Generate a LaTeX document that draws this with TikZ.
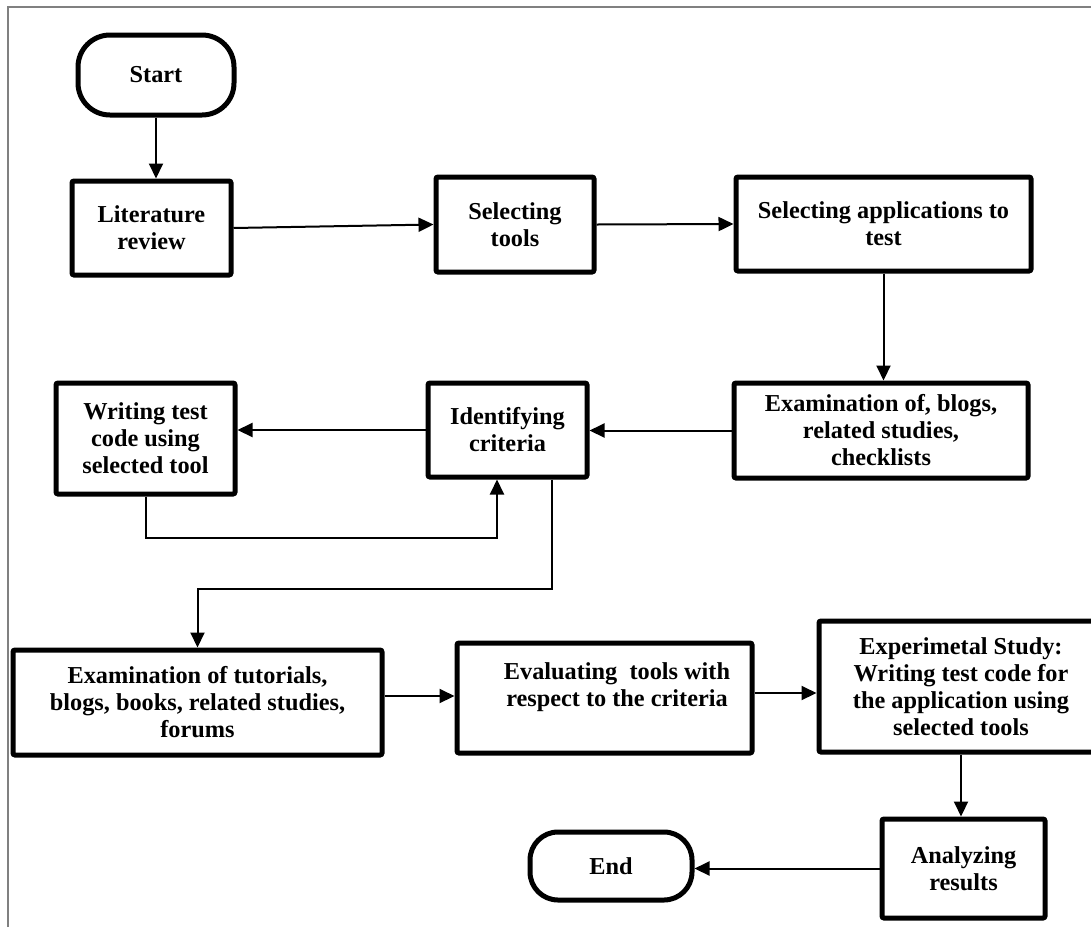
\documentclass[tikz,border=0pt]{standalone}
\usepackage{fontspec}
\setmainfont{Liberation Serif}
\usetikzlibrary{arrows.meta,calc}
\begin{document}
\begin{tikzpicture}[x=1pt,y=-1pt,
  box/.style={draw, line width=5pt, rounded corners=2pt, fill=white, align=center, inner sep=0pt,
              font=\bfseries\fontsize{24.3}{27}\selectfont},
  term/.style={box, rounded corners=32pt},
  plaintext/.style={align=center, inner sep=0pt, font=\bfseries\fontsize{24.3}{27}\selectfont},
  arr/.style={line width=2pt, -{Triangle[length=15pt,width=14pt]}},
  frameline/.style={draw=black!50, line width=1.6pt}]
\useasboundingbox (0,0) rectangle (1091,927);
\clip (0,0) rectangle (1091,927);
\fill[white] (0,0) rectangle (1091,927);
% frame
\coordinate (f1) at (8,927);
\coordinate (f2) at (8,7);
\coordinate (f3) at (1091,7);
\draw[frameline] (f1) -- (f2) -- (f3);

% nodes
\node[term, minimum width=156pt, minimum height=80pt] (start) at (156,75) {Start};
\node[box, minimum width=159pt, minimum height=94pt] (lit) at (151.5,228) {Literature\\review};
\node[box, minimum width=158pt, minimum height=95pt] (sel) at (515,224.5) {Selecting\\tools};
\node[box, minimum width=295pt, minimum height=94pt] (app) at (883.5,224) {Selecting applications to\\test};
\node[box, minimum width=294pt, minimum height=95pt] (exb) at (881,430.5) {Examination of, blogs,\\related studies,\\checklists};
\node[box, minimum width=159pt, minimum height=94pt] (ident) at (507.5,430) {Identifying\\criteria};
\node[box, minimum width=179pt, minimum height=111pt] (writ) at (145.5,438.5) {Writing test\\code using\\selected tool};
\node[box, minimum width=369pt, minimum height=105pt] (ext) at (197.5,702.5) {Examination of tutorials,\\blogs, books, related studies,\\forums};
\node[box, minimum width=295pt, minimum height=110pt] (eval) at (604.5,698) {};
\node[plaintext] (evaltxt) at (617,687) {Evaluating~~tools with\\respect to the criteria};
\node[box, minimum width=284pt, minimum height=131pt] (exp) at (961,686.5) {Experimetal Study:\\Writing test code for\\the application using\\selected tools};
\node[box, minimum width=163pt, minimum height=99pt] (ana) at (963.5,868.5) {Analyzing\\results};
\node[term, minimum width=162pt, minimum height=68pt, rounded corners=28pt] (end) at (611,866) {End};

% connectors
\draw[arr] (start.south) -- (start.south |- lit.north);
\draw[arr] (lit.east) -- (sel.west);
\draw[arr] (sel.east) -- (app.west);
\draw[arr] (app.south) -- (app.south |- exb.north);
\draw[arr] (exb.west) -- (exb.west -| ident.east);
\draw[arr] (ident.west) -- (ident.west -| writ.east);
\coordinate (l1) at ([xshift=-10.5pt]ident.south);
\draw[arr] (writ.south) -- ++(0,41) -| (l1);
\coordinate (d1) at ([xshift=44.5pt]ident.south);
\draw[arr] (d1) -- ++(0,109) -| (ext.north);
\draw[arr] ([yshift=6.5pt]ext.east) -- ([yshift=6.5pt]ext.east -| eval.west);
\draw[arr] ([yshift=5pt]eval.east) -- ([yshift=5pt]eval.east -| exp.west);
\draw[arr] (exp.south) -- (exp.south |- ana.north);
\draw[arr] (ana.west) -- (ana.west -| end.east);
\end{tikzpicture}
\end{document}
